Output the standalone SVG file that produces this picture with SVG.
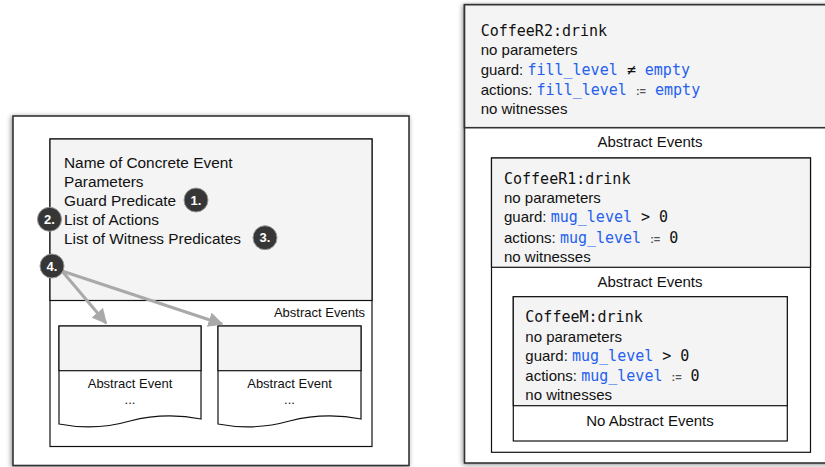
<svg xmlns="http://www.w3.org/2000/svg" width="825" height="467" viewBox="0 0 825 467">
<defs>
<filter id="sh" x="-10%" y="-10%" width="120%" height="120%">
<feDropShadow dx="-1" dy="1" stdDeviation="2.5" flood-color="#000" flood-opacity="0.45"/>
</filter>
<marker id="ah" viewBox="0 0 10 10" refX="9" refY="5" markerWidth="5" markerHeight="5" orient="auto" markerUnits="strokeWidth">
<path d="M0,0 L10,5 L0,10 Z" fill="#a9a9a9"/>
</marker>
<style>
.outer{fill:#fff;stroke:#333;stroke-width:1.6}
.box{fill:#fff;stroke:#111;stroke-width:1.2}
.grey{fill:#f4f4f4;stroke:#111;stroke-width:1.2}
.t{font-family:"Liberation Sans",Arial,sans-serif;font-size:15px;fill:#111}
.tl{font-family:"Liberation Sans",Arial,sans-serif;font-size:15.4px;fill:#111}
.s{font-family:"Liberation Sans",Arial,sans-serif;font-size:13px;fill:#111}
.m{font-family:"DejaVu Sans Mono",monospace;font-size:15px;fill:#111}
.b{fill:#2560ef}
.op{font-family:"Liberation Sans",Arial,sans-serif;fill:#555;font-size:11px;font-weight:bold}
.badge circle{fill:#363636;stroke:#999;stroke-width:1}
.badge text{font-family:"Liberation Sans",Arial,sans-serif;font-size:13px;font-weight:bold;fill:#fff;text-anchor:middle}
.conn{stroke:#a9a9a9;stroke-width:3;fill:none}
</style>
</defs>

<!-- Left diagram -->
<g id="left-frame">
<rect class="outer" x="13" y="116" width="396" height="349.5" filter="url(#sh)"/>
</g>
<g id="concrete-event">
<rect class="box" x="50" y="139" width="322" height="307.5"/>
<rect class="grey" x="50" y="139" width="322" height="161.5"/>
<text class="tl" x="64" y="168">Name of Concrete Event</text>
<text class="tl" x="64" y="187">Parameters</text>
<text class="tl" x="64" y="206">Guard Predicate</text>
<text class="tl" x="64" y="225">List of Actions</text>
<text class="tl" x="64" y="244">List of Witness Predicates</text>
<text class="s" x="365" y="317" text-anchor="end">Abstract Events</text>
</g>
<g id="abstract-event-1">
<path class="box" d="M59,326 H201 V419 Q165,412 130,421 Q95,431 59,424 Z"/>
<rect class="grey" x="59" y="326" width="142" height="44.7"/>
<text class="s" x="130" y="388" text-anchor="middle">Abstract Event</text>
<text class="s" x="130" y="404" text-anchor="middle">...</text>
</g>
<g id="abstract-event-2">
<path class="box" d="M218,326 H361 V419 Q325,412 289.5,421 Q254,431 218,424 Z"/>
<rect class="grey" x="218" y="326" width="143" height="44.7"/>
<text class="s" x="289.5" y="388" text-anchor="middle">Abstract Event</text>
<text class="s" x="289.5" y="404" text-anchor="middle">...</text>
</g>
<g id="connectors">
<line class="conn" x1="62" y1="271" x2="106" y2="323" marker-end="url(#ah)"/>
<line class="conn" x1="62" y1="271" x2="222" y2="324" marker-end="url(#ah)"/>
</g>
<g id="badge-1" class="badge"><circle cx="196" cy="200" r="12"/><text x="196" y="204.5">1.</text></g>
<g id="badge-2" class="badge"><circle cx="49.5" cy="219.3" r="12"/><text x="49.5" y="223.8">2.</text></g>
<g id="badge-3" class="badge"><circle cx="265" cy="237.7" r="12"/><text x="265" y="242.2">3.</text></g>
<g id="badge-4" class="badge"><circle cx="52" cy="266" r="12"/><text x="52" y="270.5">4.</text></g>

<!-- Right diagram -->
<g id="coffeeR2">
<rect class="outer" x="464.5" y="4.7" width="370" height="458.3" filter="url(#sh)"/>
<rect class="grey" x="464.5" y="4.7" width="370" height="123" style="stroke:#333;stroke-width:1.6"/>
<text class="m" x="480.7" y="36">CoffeeR2:drink</text>
<text class="t" x="480.7" y="55">no parameters</text>
<text class="t" x="480.7" y="75">guard: <tspan class="m b">fill_level</tspan><tspan class="m"> ≠ </tspan><tspan class="m b">empty</tspan></text>
<text class="t" x="480.7" y="95">actions: <tspan class="m b">fill_level</tspan><tspan class="m"> </tspan><tspan class="op">:=</tspan><tspan class="m"> </tspan><tspan class="m b">empty</tspan></text>
<text class="t" x="480.7" y="114">no witnesses</text>
<text class="t" x="650" y="147" text-anchor="middle">Abstract Events</text>
</g>
<g id="coffeeR1">
<rect class="box" x="491.5" y="158" width="319" height="294.3"/>
<rect class="grey" x="491.5" y="158" width="319" height="109.3"/>
<text class="m" x="504" y="184">CoffeeR1:drink</text>
<text class="t" x="504" y="203">no parameters</text>
<text class="t" x="504" y="222">guard: <tspan class="m b">mug_level</tspan><tspan class="m"> &gt; 0</tspan></text>
<text class="t" x="504" y="243">actions: <tspan class="m b">mug_level</tspan><tspan class="m"> </tspan><tspan class="op">:=</tspan><tspan class="m"> 0</tspan></text>
<text class="t" x="504" y="262">no witnesses</text>
<text class="t" x="650" y="287" text-anchor="middle">Abstract Events</text>
</g>
<g id="coffeeM">
<rect class="box" x="513.3" y="296.7" width="274" height="144.3"/>
<rect class="grey" x="513.3" y="296.7" width="274" height="109"/>
<text class="m" x="525.3" y="322">CoffeeM:drink</text>
<text class="t" x="525.3" y="342">no parameters</text>
<text class="t" x="525.3" y="361">guard: <tspan class="m b">mug_level</tspan><tspan class="m"> &gt; 0</tspan></text>
<text class="t" x="525.3" y="381">actions: <tspan class="m b">mug_level</tspan><tspan class="m"> </tspan><tspan class="op">:=</tspan><tspan class="m"> 0</tspan></text>
<text class="t" x="525.3" y="400">no witnesses</text>
<text class="t" x="650" y="425.5" text-anchor="middle">No Abstract Events</text>
</g>
</svg>
